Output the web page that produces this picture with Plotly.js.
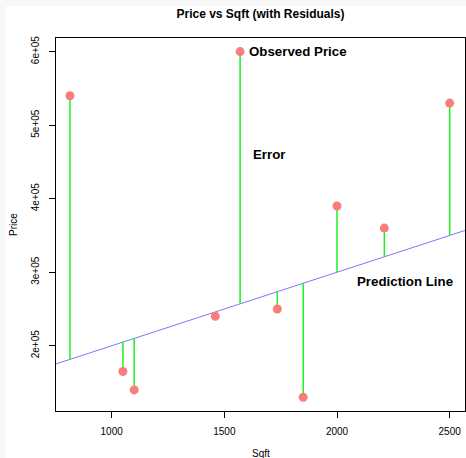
<!DOCTYPE html>
<html>
<head>
<meta charset="utf-8">
<script src="https://cdn.plot.ly/plotly-3.0.1.min.js"></script>
<style>
  html, body { margin: 0; padding: 0; background: #f7f7f7; width: 466px; height: 458px; overflow: hidden; }
  #chart { position: absolute; left: 6px; top: 6px; width: 460px; height: 452px; background: #fff; }
</style>
</head>
<body>
<div id="chart"></div>
<script>
// Data
const sqft = [815, 1050, 1100, 1460, 1570, 1735, 1850, 2000, 2210, 2500];
const price = [540000, 165000, 140000, 240000, 600000, 250000, 130000, 390000, 360000, 530000];
// Prediction line coefficients
const intercept = 100000;
const slope = 100;

const xTicks = [1000, 1500, 2000, 2500];
const yTicks = [200000, 300000, 400000, 500000, 600000];
const yTickText = ["2e+05", "3e+05", "4e+05", "5e+05", "6e+05"];

const xRange = [753, 2568];
const yRange = [111300, 618500];

const predicted = sqft.map(x => intercept + slope * x);

// residual segments
const segX = [], segY = [];
sqft.forEach((x, i) => { segX.push(x, x, null); segY.push(price[i], predicted[i], null); });

const traces = [
  { x: xRange, y: xRange.map(x => intercept + slope * x), mode: 'lines', type: 'scatter',
    line: { color: '#7878ff', width: 1 }, hoverinfo: 'skip' },
  { x: segX, y: segY, mode: 'lines', type: 'scatter',
    line: { color: '#1ef01e', width: 1.5 }, hoverinfo: 'skip' },
  { x: sqft, y: price, mode: 'markers', type: 'scatter',
    marker: { color: '#f87e7e', size: 9 } }
];

const tickFont = { family: 'Liberation Sans, Arial, sans-serif', size: 10, color: '#000' };
const layout = {
  width: 460, height: 452,
  margin: { l: 50, r: 1, t: 32, b: 47, pad: 0 },
  paper_bgcolor: '#fff', plot_bgcolor: '#fff',
  showlegend: false,
  font: { family: 'Liberation Sans, Arial, sans-serif', color: '#000' },
  title: { text: '<b>Price vs Sqft (with Residuals)</b>', font: { size: 12, color: '#000' },
           x: 0.5, xref: 'paper', y: 1 - 8 / 452, yref: 'container', yanchor: 'middle' },
  xaxis: {
    range: xRange, tickvals: xTicks, ticktext: xTicks.map(String),
    ticks: 'outside', ticklen: 6, tickcolor: '#000', tickwidth: 1,
    ticklabelstandoff: 5, tickfont: tickFont,
    showline: true, mirror: true, linecolor: '#000', linewidth: 1.2,
    showgrid: false, zeroline: false
  },
  yaxis: {
    range: yRange, tickvals: yTicks, ticktext: yTickText, tickangle: -90,
    ticks: 'outside', ticklen: 6, tickcolor: '#000', tickwidth: 1,
    ticklabelstandoff: 6, tickfont: tickFont,
    showline: true, mirror: true, linecolor: '#000', linewidth: 1.2,
    showgrid: false, zeroline: false
  },
  annotations: [
    { text: '<b>Observed Price</b>', x: 1570, y: 600000, xref: 'x', yref: 'y',
      xanchor: 'left', yanchor: 'middle', xshift: 7, showarrow: false,
      font: { size: 13.3, color: '#000' } },
    { text: '<b>Error</b>', x: 1700, y: 460000, xref: 'x', yref: 'y',
      xanchor: 'center', yanchor: 'middle', showarrow: false,
      font: { size: 13.3, color: '#000' } },
    { text: '<b>Prediction Line</b>', x: 2300, y: 287000, xref: 'x', yref: 'y',
      xanchor: 'center', yanchor: 'middle', showarrow: false,
      font: { size: 13.3, color: '#000' } },
    { text: 'Sqft', x: 0.5, xref: 'paper', y: 0, yref: 'paper', yanchor: 'middle',
      yshift: -42, showarrow: false, font: { size: 10, color: '#000' } },
    { text: 'Price', x: 0, xref: 'paper', y: 0.5, yref: 'paper', xanchor: 'center',
      xshift: -42.5, textangle: -90, showarrow: false, font: { size: 10, color: '#000' } }
  ]
};

Plotly.newPlot('chart', traces, layout, { displayModeBar: false, staticPlot: true });
</script>
</body>
</html>
